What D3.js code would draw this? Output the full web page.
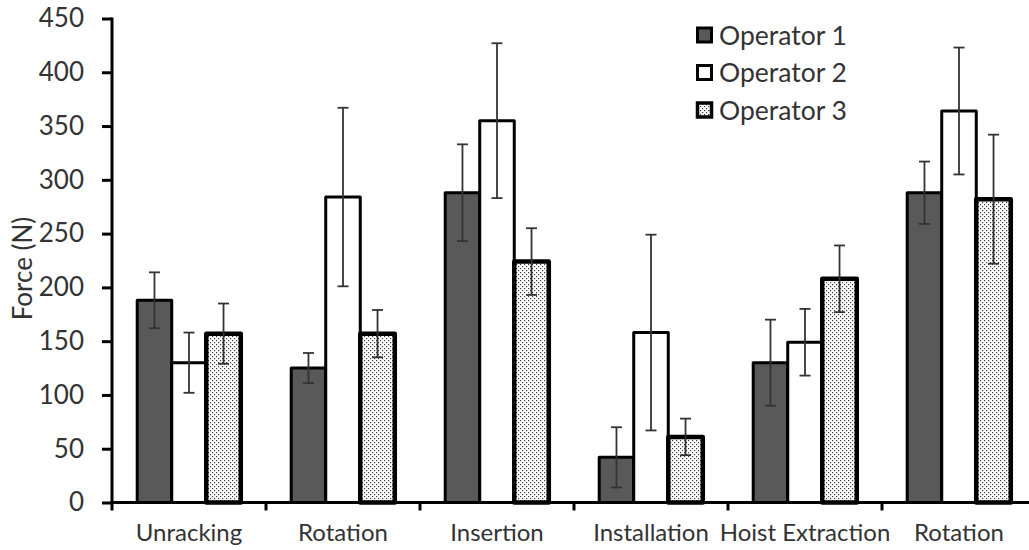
<!DOCTYPE html>
<html>
<head>
<meta charset="utf-8">
<script src="https://cdn.jsdelivr.net/npm/d3@7/dist/d3.min.js"></script>
<style>
  html, body { margin: 0; padding: 0; background: #fff; }
  svg { display: block; }
  text { font-family: Lato, "DejaVu Sans", sans-serif; fill: #333; }
</style>
</head>
<body>
<svg id="chart" width="1029" height="550"></svg>
<script>
// Task phases and operators
const categories = ["Unracking", "Rotation", "Insertion", "Installation", "Hoist Extraction", "Rotation "];
const series = ["Operator 1", "Operator 2", "Operator 3"];

// Mean force per phase (N)
const operator1 = [188, 125, 288, 42, 130, 288];
const operator2 = [130, 284, 355, 158, 149, 364];
const operator3 = [157, 157, 224, 61, 208, 282];

// Standard deviation per phase (N)
const operator1Err = [26, 14, 45, 28, 40, 29];
const operator2Err = [28, 83, 72, 91, 31, 59];
const operator3Err = [28, 22, 31, 17, 31, 60];

const yTicks = [0, 50, 100, 150, 200, 250, 300, 350, 400, 450];

const values = [operator1, operator2, operator3];
const errors = [operator1Err, operator2Err, operator3Err];

const svg = d3.select("#chart");
const plot = { left: 112, right: 1036, top: 18.5, bottom: 502.5 };

const x0 = d3.scaleBand().domain(categories).range([plot.left, plot.right]).padding(0);
const x1 = d3.scaleBand().domain(series).range([0, x0.bandwidth()])
  .paddingInner(0).paddingOuter(0.73);
const y = d3.scaleLinear().domain([0, 450]).range([plot.bottom, plot.top]);

// dotted fill for the third series
const defs = svg.append("defs");
const pat = defs.append("pattern").attr("id", "dots")
  .attr("patternUnits", "userSpaceOnUse").attr("width", 4).attr("height", 4);
pat.append("rect").attr("width", 4).attr("height", 4).attr("fill", "#fff");
pat.append("rect").attr("x", 0).attr("y", 0).attr("width", 1.2).attr("height", 1.2).attr("fill", "#3c3c3c");
pat.append("rect").attr("x", 2).attr("y", 2).attr("width", 1.2).attr("height", 1.2).attr("fill", "#3c3c3c");

const styles = [
  { fill: "#595959", strokeWidth: 3 },
  { fill: "#ffffff", strokeWidth: 3 },
  { fill: "url(#dots)", strokeWidth: 4.5 }
];

// bars
const rows = [];
categories.forEach((c, ci) => {
  series.forEach((s, si) => {
    rows.push({ c, s, si, v: values[si][ci], e: errors[si][ci] });
  });
});

svg.append("g").selectAll("rect").data(rows).join("rect")
  .attr("x", d => x0(d.c) + x1(d.s))
  .attr("y", d => y(d.v))
  .attr("width", x1.bandwidth())
  .attr("height", d => y(0) - y(d.v))
  .attr("fill", d => styles[d.si].fill)
  .attr("stroke", "#000")
  .attr("stroke-width", d => styles[d.si].strokeWidth)
  .attr("stroke-linejoin", "round");

// error bars
const eg = svg.append("g").attr("stroke", "#333").attr("stroke-width", 1.8).attr("fill", "none");
const cap = 5.5;
rows.forEach(d => {
  const cx = x0(d.c) + x1(d.s) + x1.bandwidth() / 2;
  eg.append("line").attr("x1", cx).attr("x2", cx).attr("y1", y(d.v + d.e)).attr("y2", y(d.v - d.e));
  eg.append("line").attr("x1", cx - cap).attr("x2", cx + cap).attr("y1", y(d.v + d.e)).attr("y2", y(d.v + d.e));
  eg.append("line").attr("x1", cx - cap).attr("x2", cx + cap).attr("y1", y(d.v - d.e)).attr("y2", y(d.v - d.e));
});

// y axis
const yAxis = d3.axisLeft(y).tickValues(yTicks).tickSize(10).tickPadding(18).tickSizeOuter(0);
const yg = svg.append("g").attr("transform", `translate(${plot.left},0)`).call(yAxis);
yg.select(".domain").remove();
yg.selectAll(".tick line").attr("stroke", "#000").attr("stroke-width", 3);
yg.selectAll(".tick text").attr("font-size", 26).attr("fill", "#333")
  .style("font-family", "Lato, sans-serif");
svg.append("line").attr("x1", plot.left).attr("x2", plot.left)
  .attr("y1", plot.top - 1).attr("y2", plot.bottom + 8)
  .attr("stroke", "#000").attr("stroke-width", 3);

// x axis
const xAxis = d3.axisBottom(x0).tickSize(0).tickPadding(21).tickSizeOuter(0);
const xg = svg.append("g").attr("transform", `translate(0,${plot.bottom})`).call(xAxis);
xg.select(".domain").remove();
xg.selectAll(".tick text").attr("font-size", 24).attr("fill", "#333")
  .style("font-family", "Lato, sans-serif");
svg.append("line").attr("x1", plot.left - 1.5).attr("x2", plot.right)
  .attr("y1", plot.bottom).attr("y2", plot.bottom)
  .attr("stroke", "#000").attr("stroke-width", 3);
// category separators
svg.append("g").selectAll("line").data(categories.slice(1)).join("line")
  .attr("x1", d => x0(d)).attr("x2", d => x0(d))
  .attr("y1", plot.bottom).attr("y2", plot.bottom + 8)
  .attr("stroke", "#000").attr("stroke-width", 3);

// y title
svg.append("text")
  .attr("transform", `translate(32,${(plot.top + plot.bottom) / 2 + 8}) rotate(-90)`)
  .attr("text-anchor", "middle")
  .attr("font-size", 26)
  .text("Force (N)");

// legend
const lg = svg.append("g").attr("transform", "translate(696,35)");
series.forEach((s, i) => {
  const row = lg.append("g").attr("transform", `translate(0,${i * 37.5})`);
  row.append("rect").attr("x", 1.5).attr("y", -7).attr("width", 14).attr("height", 14)
    .attr("fill", styles[i].fill).attr("stroke", "#000").attr("stroke-width", i === 2 ? 3.5 : 3);
  row.append("text").attr("x", 23).attr("y", 0).attr("dy", "0.36em")
    .attr("font-size", 26.5).text(s);
});
</script>
</body>
</html>
